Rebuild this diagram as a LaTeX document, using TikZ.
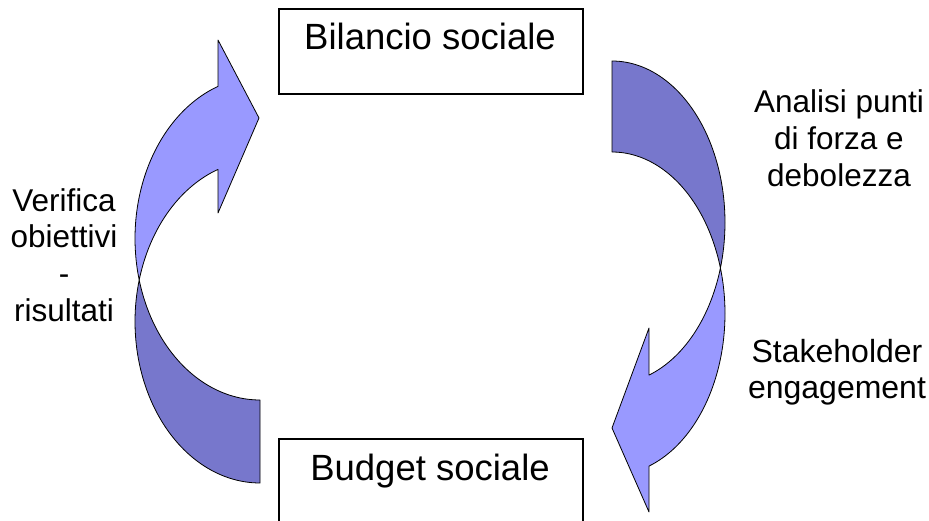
\documentclass[tikz,border=0pt]{standalone}
\usepackage{fontspec}
\setmainfont{Liberation Sans}
\definecolor{lightarrow}{RGB}{153,153,255}
\definecolor{darkarrow}{RGB}{119,119,204}
\begin{document}
\begin{tikzpicture}[x=1pt,y=-1pt,
  box/.style={draw=black, line width=2pt, minimum width=304pt, minimum height=85pt, inner sep=0pt, anchor=north west},
  boxtext/.style={font=\fontsize{36.5}{40}\selectfont, anchor=base, inner sep=0pt},
  anatext/.style={font=\fontsize{31.5}{37}\selectfont, align=center, anchor=base, inner sep=0pt},
  stktext/.style={font=\fontsize{32}{36}\selectfont, align=center, anchor=base, inner sep=0pt},
  lefttext/.style={font=\fontsize{31.5}{37}\selectfont, align=center, anchor=base, inner sep=0pt},
  light/.style={fill=lightarrow, draw=black, line width=0.8pt, line join=round},
  dark/.style={fill=darkarrow, draw=black, line width=0.8pt, line join=round}]
\useasboundingbox (0,0) rectangle (929,521);
\clip (0,0) rectangle (929,521);

% left curved arrow: back part (dark)
\path[dark] (260,483)
  -- plot[domain=90:-14.89, samples=60, variable=\t] ({260-125*cos(\t)},{321.5+161.5*sin(\t)})
  -- plot[domain=14.89:90, samples=50, variable=\t] ({260-125*cos(\t)},{238.5+161.5*sin(\t)})
  -- cycle;
% left curved arrow: front part (light) with head
\path[light] (218,40)
  -- plot[domain=-70.37:14.89, samples=60, variable=\t] ({260-125*cos(\t)},{238.5+161.5*sin(\t)})
  -- plot[domain=-14.89:-70.37, samples=50, variable=\t] ({260-125*cos(\t)},{321.5+161.5*sin(\t)})
  -- (218,213) -- (259,118) -- cycle;

% right curved arrow: back part (dark)
\path[dark] (612,61)
  -- plot[domain=-90:16.36, samples=60, variable=\t] ({612+113*cos(\t)},{222.5+161.5*sin(\t)})
  -- plot[domain=-16.36:-90, samples=50, variable=\t] ({612+113*cos(\t)},{313.5+161.5*sin(\t)})
  -- cycle;
% right curved arrow: front part (light) with head
\path[light] (649,328)
  -- plot[domain=70.89:16.36, samples=50, variable=\t] ({612+113*cos(\t)},{222.5+161.5*sin(\t)})
  -- plot[domain=-16.36:70.89, samples=60, variable=\t] ({612+113*cos(\t)},{313.5+161.5*sin(\t)})
  -- (649,512) -- (612,428) -- cycle;

% boxes
\node[box] (bil) at (278,8) {};
\node[boxtext] (biltext) at (430,50) {Bilancio sociale};
\node[box, minimum height=120pt] (bud) at (278,438) {};
\node[boxtext] (budtext) at (430,480) {Budget sociale};

% side labels (anchor = baseline of last line)
\node[anatext] (ana) at (839,187) {Analisi punti\\di forza e\\debolezza};
\node[stktext] (stk) at (837,398) {Stakeholder\\engagement};
\node[lefttext] (ver) at (64,322) {Verifica\\obiettivi\\-\\risultati};
\end{tikzpicture}
\end{document}
